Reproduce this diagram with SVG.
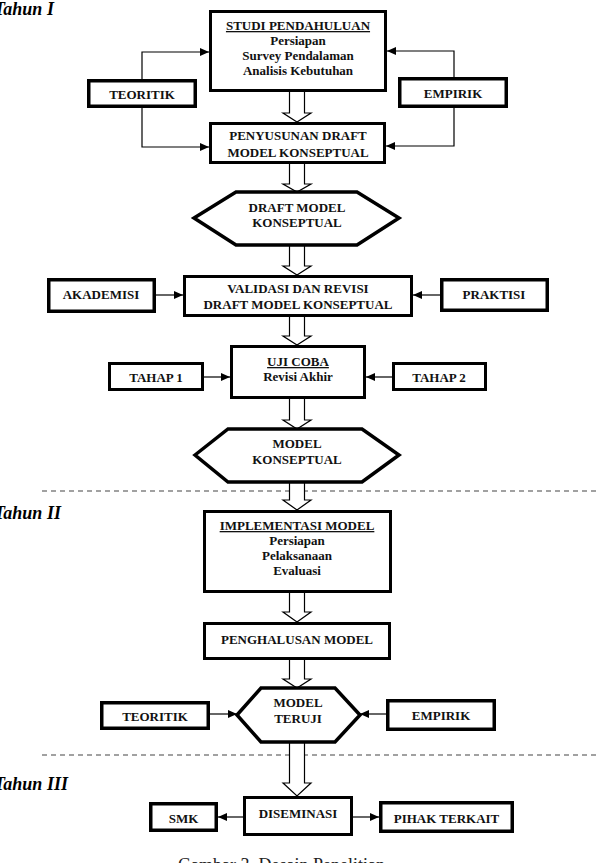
<svg xmlns="http://www.w3.org/2000/svg" width="598" height="863" viewBox="0 0 598 863">
<style>
.box{fill:#fff;stroke:#000;stroke-width:3}
.sbox{fill:#fff;stroke:#000;stroke-width:3.5}
.hex{fill:#fff;stroke:#000;stroke-width:3.5;stroke-linejoin:miter}
.t{font-family:"Liberation Serif","Times New Roman",serif;font-weight:bold;font-size:13px;text-anchor:middle;fill:#111}
.u{text-decoration:underline}
.yr{font-family:"Liberation Serif","Times New Roman",serif;font-weight:bold;font-style:italic;font-size:18px;fill:#000}
.cap{font-family:"Liberation Serif","Times New Roman",serif;font-size:18px;fill:#222}
.ln{fill:none;stroke:#000;stroke-width:1.2}
.blk{fill:#fff;stroke:#000;stroke-width:1.2;stroke-linejoin:miter}
.dash{stroke:#444;stroke-width:1.2;stroke-dasharray:5 4}
</style>
<defs>
<marker id="ah" markerUnits="userSpaceOnUse" markerWidth="10" markerHeight="8" refX="9" refY="4" orient="auto">
<path d="M0,0 L9,4 L0,8 z" fill="#000"/>
</marker>
</defs>

<text class="yr" x="-6" y="15">Tahun I</text>
<text class="yr" x="-6" y="519">Tahun II</text>
<text class="yr" x="-6" y="790">Tahun III</text>

<line class="dash" x1="42" y1="491" x2="598" y2="491"/>
<line class="dash" x1="42" y1="755" x2="598" y2="755"/>

<g id="connectors">
<path class="ln" d="M142,79 V52 H209" marker-end="url(#ah)"/>
<path class="ln" d="M142,108 V147 H209" marker-end="url(#ah)"/>
<path class="ln" d="M454,77 V51 H387" marker-end="url(#ah)"/>
<path class="ln" d="M454,108 V146 H386" marker-end="url(#ah)"/>
<path class="ln" d="M156,295 H183" marker-end="url(#ah)"/>
<path class="ln" d="M440,295 H413" marker-end="url(#ah)"/>
<path class="ln" d="M204,377 H230" marker-end="url(#ah)"/>
<path class="ln" d="M392,377 H366" marker-end="url(#ah)"/>
<path class="ln" d="M210,714 H237" marker-end="url(#ah)"/>
<path class="ln" d="M386,714 H360" marker-end="url(#ah)"/>
<path class="ln" d="M243,817 H218" marker-end="url(#ah)"/>
<path class="ln" d="M353,817 H379" marker-end="url(#ah)"/>
<path class="blk" d="M289.5,92 V113 H283 L297,122 L311,113 H304.5 V92"/>
<path class="blk" d="M289.5,164 V184 H283 L297,192 L311,184 H304.5 V164"/>
<path class="blk" d="M289.5,245 V266 H283 L297,275 L311,266 H304.5 V245"/>
<path class="blk" d="M289.5,317 V336 H283 L297,345 L311,336 H304.5 V317"/>
<path class="blk" d="M289.5,399 V420 H283 L297,429 L311,420 H304.5 V399"/>
<path class="blk" d="M289.5,482 V500 H283 L297,510 L311,500 H304.5 V482"/>
<path class="blk" d="M289.5,593 V612 H283 L297,622 L311,612 H304.5 V593"/>
<path class="blk" d="M289.5,660 V679 H283 L297,688 L311,679 H304.5 V660"/>
<path class="blk" d="M289.5,742 V783 H283 L297,796 L311,783 H304.5 V742"/>
</g>

<g id="studi">
<rect class="box" x="210.5" y="11.5" width="175" height="79"/>
<text class="t u" x="298" y="30">STUDI PENDAHULUAN</text>
<text class="t" x="298" y="45">Persiapan</text>
<text class="t" x="298" y="60">Survey Pendalaman</text>
<text class="t" x="298" y="75">Analisis Kebutuhan</text>
</g>
<g id="teoritik1">
<rect class="sbox" x="88.75" y="80.75" width="106.5" height="25.5"/>
<text class="t" x="142" y="99">TEORITIK</text>
</g>
<g id="empirik1">
<rect class="sbox" x="399.75" y="78.75" width="106.5" height="27.5"/>
<text class="t" x="453" y="98">EMPIRIK</text>
</g>
<g id="penyusunan">
<rect class="box" x="210.5" y="123.5" width="174" height="39"/>
<text class="t" x="298" y="140">PENYUSUNAN DRAFT</text>
<text class="t" x="298" y="157">MODEL KONSEPTUAL</text>
</g>
<g id="draft">
<polygon class="hex" points="194,218 236,192 357,192 399,218 357,245 236,245"/>
<text class="t" x="297" y="212">DRAFT MODEL</text>
<text class="t" x="297" y="227">KONSEPTUAL</text>
</g>
<g id="validasi">
<rect class="box" x="184.5" y="276.5" width="227" height="39"/>
<text class="t" x="298" y="293">VALIDASI DAN REVISI</text>
<text class="t" x="298" y="309">DRAFT MODEL KONSEPTUAL</text>
</g>
<g id="akademisi">
<rect class="sbox" x="48.75" y="279.75" width="105.5" height="31.5"/>
<text class="t" x="101" y="299">AKADEMISI</text>
</g>
<g id="praktisi">
<rect class="sbox" x="441.75" y="279.75" width="105.5" height="30.5"/>
<text class="t" x="494" y="299">PRAKTISI</text>
</g>
<g id="ujicoba">
<rect class="box" x="231.5" y="346.5" width="133" height="51"/>
<text class="t u" x="298" y="366">UJI COBA</text>
<text class="t" x="298" y="381">Revisi Akhir</text>
</g>
<g id="tahap1">
<rect class="box" x="109.5" y="363.5" width="93" height="26"/>
<text class="t" x="156" y="382">TAHAP 1</text>
</g>
<g id="tahap2">
<rect class="box" x="393.5" y="363.5" width="92" height="26"/>
<text class="t" x="439" y="382">TAHAP 2</text>
</g>
<g id="model">
<polygon class="hex" points="195,455 228,429 362,429 399,455 362,482 228,482"/>
<text class="t" x="297" y="448">MODEL</text>
<text class="t" x="297" y="464">KONSEPTUAL</text>
</g>
<g id="implementasi">
<rect class="box" x="204.5" y="511.5" width="186" height="80"/>
<text class="t u" x="297" y="530">IMPLEMENTASI MODEL</text>
<text class="t" x="297" y="545">Persiapan</text>
<text class="t" x="297" y="560">Pelaksanaan</text>
<text class="t" x="297" y="575">Evaluasi</text>
</g>
<g id="penghalusan">
<rect class="box" x="204.5" y="623.5" width="185" height="35"/>
<text class="t" x="297" y="644">PENGHALUSAN MODEL</text>
</g>
<g id="teruji">
<polygon class="hex" points="237,715 261,688 335,688 360,715 335,742 261,742"/>
<text class="t" x="298" y="707">MODEL</text>
<text class="t" x="298" y="723">TERUJI</text>
</g>
<g id="teoritik2">
<rect class="sbox" x="101.75" y="702.75" width="106.5" height="25.5"/>
<text class="t" x="155" y="721">TEORITIK</text>
</g>
<g id="empirik2">
<rect class="sbox" x="387.75" y="700.75" width="106.5" height="28.5"/>
<text class="t" x="441" y="720">EMPIRIK</text>
</g>
<g id="diseminasi">
<rect class="box" x="244.5" y="797.5" width="107" height="37"/>
<text class="t" x="298" y="818">DISEMINASI</text>
</g>
<g id="smk">
<rect class="sbox" x="150.75" y="803.75" width="65.5" height="26.5"/>
<text class="t" x="183.5" y="823">SMK</text>
</g>
<g id="pihak">
<rect class="sbox" x="380.75" y="802.75" width="131.5" height="28.5"/>
<text class="t" x="446.5" y="823">PIHAK TERKAIT</text>
</g>

<text class="cap" x="178" y="871">Gambar 3. Desain Penelitian</text>
</svg>
